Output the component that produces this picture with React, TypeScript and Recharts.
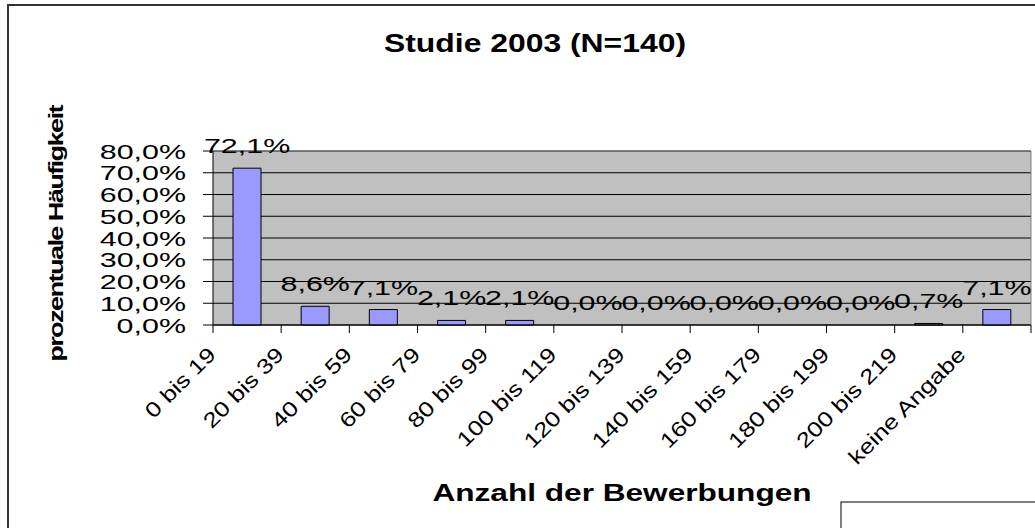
import {
  ComposedChart,
  Bar,
  Line,
  XAxis,
  YAxis,
  CartesianGrid,
  LabelList,
  ReferenceLine,
} from 'recharts'

const categories = [
  '0 bis 19',
  '20 bis 39',
  '40 bis 59',
  '60 bis 79',
  '80 bis 99',
  '100 bis 119',
  '120 bis 139',
  '140 bis 159',
  '160 bis 179',
  '180 bis 199',
  '200 bis 219',
  'keine Angabe',
]
const shares = [72.1, 8.6, 7.1, 2.1, 2.1, 0, 0, 0, 0, 0, 0.7, 7.1]
const yTicks = [0, 10, 20, 30, 40, 50, 60, 70, 80]

const title = 'Studie 2003 (N=140)'
const xTitle = 'Anzahl der Bewerbungen'
const yTitle = 'prozentuale Häufigkeit'

const W = 1035
const H = 528
const PLOT_LEFT = 213
const PLOT_RIGHT = 4
const PLOT_TOP = 151
const X_AXIS_H = 203
const BAND = (W - PLOT_LEFT - PLOT_RIGHT) / categories.length

const FONT = '"Liberation Sans", Arial, sans-serif'
// old excel export: text is drawn wider than the font really is
const STRETCH = 1.45
const X_STRETCH = 1.22

const pct = (v: number) => `${v.toFixed(1).replace('.', ',')}%`

const data = categories.map((cat, i) => ({ cat, value: shares[i] }))

const YTick = ({ x, y, payload }: any) => (
  <g transform={`translate(${x},${y}) scale(${STRETCH},1)`}>
    <text textAnchor="end" dy="0.36em" fontSize={21} fontFamily={FONT} fill="#000">
      {pct(payload.value)}
    </text>
  </g>
)

const XTick = ({ x, y, payload, index }: any) => {
  const left = x - BAND / 2
  return (
    <g>
      <line x1={left} x2={left} y1={y} y2={y + 8} stroke="#000" />
      {index === categories.length - 1 && (
        <line x1={x + BAND / 2} x2={x + BAND / 2} y1={y} y2={y + 8} stroke="#000" />
      )}
      <g transform={`translate(${left + 4},${y + 31}) rotate(-45) scale(${X_STRETCH},1)`}>
        <text textAnchor="end" fontSize={21} fontFamily={FONT} fill="#000">
          {payload.value}
        </text>
      </g>
    </g>
  )
}

// labels hang off an invisible line so the zero bars get theirs too
const ValueLabel = (props: any) => {
  const { x, y, value } = props
  return (
    <g transform={`translate(${x},${y - 15}) scale(${STRETCH},1)`}>
      <text textAnchor="middle" fontSize={21} fontFamily={FONT} fill="#000">
        {pct(value)}
      </text>
    </g>
  )
}

export default function App() {
  const plotH = H - PLOT_TOP - X_AXIS_H
  return (
    <div style={{ position: 'absolute', left: 0, top: 0, width: W, height: H, overflow: 'hidden', background: '#fff' }}>
      <svg width={W} height={H} style={{ position: 'absolute', left: 0, top: 0 }}>
        <path d={`M8,${H + 10} V5 H${W + 10}`} fill="none" stroke="#333" strokeWidth={2} />
        <g transform="translate(535,52) scale(1.25,1)">
          <text textAnchor="middle" fontSize={25.5} fontWeight="bold" fontFamily={FONT} fill="#000">
            {title}
          </text>
        </g>
        <g transform="translate(622,501) scale(1.29,1)">
          <text textAnchor="middle" fontSize={24.5} fontWeight="bold" fontFamily={FONT} fill="#000">
            {xTitle}
          </text>
        </g>
        <g transform={`translate(62.5,${PLOT_TOP + plotH / 2 - 4}) rotate(-90) scale(1.36,1)`}>
          <text
            textAnchor="middle"
            fontSize={20}
            fontWeight="bold"
            letterSpacing={-1.2}
            fontFamily={FONT}
            fill="#000"
          >
            {yTitle}
          </text>
        </g>
        <rect x={841} y={502} width={300} height={100} fill="#fff" stroke="#000" />
      </svg>
      <div style={{ position: 'absolute', left: 0, top: 0 }}>
        <ComposedChart
          width={W}
          height={H}
          data={data}
          margin={{ top: PLOT_TOP, right: 0, bottom: 0, left: 0 }}
        >
          <CartesianGrid yAxisId="left" vertical={false} stroke="#000" fill="#C0C0C0" fillOpacity={1} />
          <XAxis
            dataKey="cat"
            height={X_AXIS_H}
            interval={0}
            tickSize={0}
            tickMargin={0}
            tickLine={false}
            axisLine={{ stroke: '#000' }}
            tick={<XTick />}
          />
          <YAxis
            yAxisId="left"
            width={PLOT_LEFT}
            domain={[0, 80]}
            ticks={yTicks}
            interval={0}
            tickSize={10}
            tickMargin={17}
            tickLine={{ stroke: '#000' }}
            axisLine={{ stroke: '#000' }}
            tick={<YTick />}
          />
          <YAxis
            yAxisId="right"
            orientation="right"
            width={PLOT_RIGHT}
            domain={[0, 80]}
            tick={false}
            tickLine={false}
            axisLine={{ stroke: '#808080' }}
          />
          <ReferenceLine yAxisId="left" y={80} stroke="#808080" />
          <Bar
            yAxisId="left"
            dataKey="value"
            barSize={28}
            fill="#9999FF"
            stroke="#000"
            strokeWidth={1}
            isAnimationActive={false}
          />
          <Line
            yAxisId="left"
            dataKey="value"
            stroke="none"
            dot={false}
            activeDot={false}
            legendType="none"
            isAnimationActive={false}
          >
            <LabelList dataKey="value" content={<ValueLabel />} />
          </Line>
        </ComposedChart>
      </div>
    </div>
  )
}
